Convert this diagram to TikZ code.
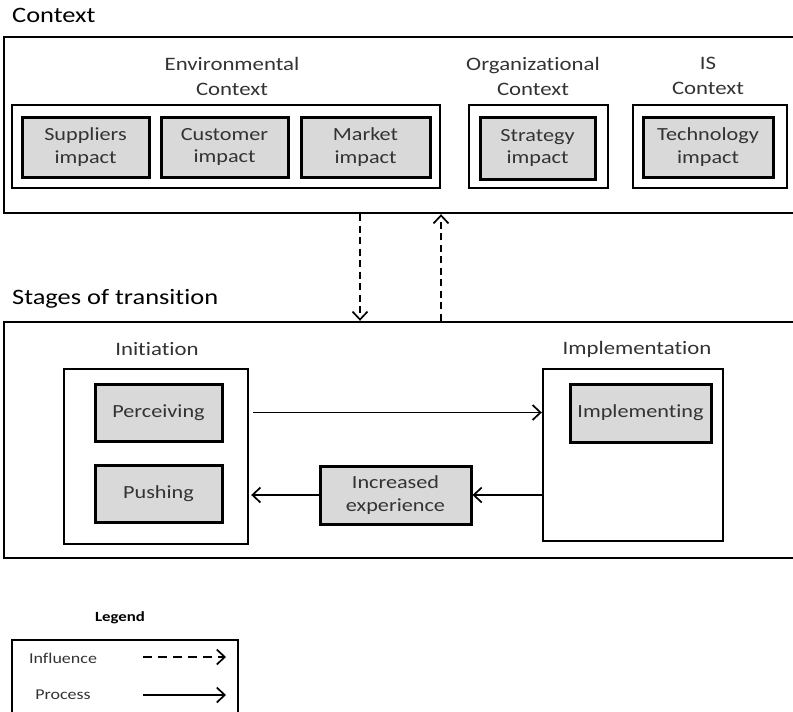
\documentclass[tikz,border=0pt]{standalone}
\usepackage{fontspec}
\setmainfont{Carlito}[FakeStretch=1.2, Ligatures=NoCommon]
\usetikzlibrary{arrows.meta}
\definecolor{boxgray}{HTML}{D9D9D9}
\definecolor{txtgray}{HTML}{333333}
\tikzset{
  frame/.style={draw=black, line width=2.4pt, fill=none, inner sep=0pt},
  imp/.style={draw=black, line width=3pt, fill=boxgray, inner sep=0pt, align=center,
    text=txtgray, font=\fontsize{18.5}{22.5}\selectfont},
  lbl/.style={align=center, text=txtgray, font=\fontsize{19}{25}\selectfont, inner sep=0pt},
  ttl/.style={anchor=west, text=black, font=\fontsize{22}{26}\selectfont, inner sep=0pt},
  proc/.style={line width=1.7pt, -{Straight Barb[length=8pt,width=15pt,line width=1.7pt]}},
  infl/.style={line width=1.7pt, dash pattern=on 7pt off 4.5pt, -{Straight Barb[length=8pt,width=15pt,line width=1.7pt]}},
  lgtxt/.style={text=txtgray, font=\fontsize{15}{18}\selectfont, inner sep=0pt}
}
\begin{document}
\begin{tikzpicture}[x=1pt,y=-1pt]
\useasboundingbox (0,0) rectangle (793,712);
\clip (0,0) rectangle (793,712);
% Context
\node[ttl] (ctxtitle) at (12,15) {Context};
\node[frame, minimum width=796pt, minimum height=176pt] (context) at (402,125) {};
\node[lbl] (envlbl) at (232,76) {Environmental\\Context};
\node[frame, minimum width=428pt, minimum height=83pt] (env) at (226,146.5) {};
\node[imp, minimum width=127pt, minimum height=60pt] (sup) at (85.5,147) {Suppliers\\impact};
\node[imp, minimum width=127pt, minimum height=60pt] (cus) at (224.5,147) {Customer\\impact};
\node[imp, minimum width=129pt, minimum height=60pt] (mkt) at (365.5,147) {Market\\impact};
\node[lbl] (orglbl) at (533,76) {Organizational\\Context};
\node[frame, minimum width=139pt, minimum height=83pt] (org) at (538.5,146.5) {};
\node[imp, minimum width=115pt, minimum height=62pt] (str) at (537.5,148) {Strategy\\impact};
\node[lbl] (islbl) at (708,76) {IS\\Context};
\node[frame, minimum width=154pt, minimum height=83pt] (is) at (710,146.5) {};
\node[imp, minimum width=130pt, minimum height=60pt] (tec) at (708,147) {Technology\\impact};
% Stages
\node[ttl] (sttitle) at (12,299) {Stages of transition};
\node[frame, minimum width=796pt, minimum height=236pt] (stages) at (402,440) {};
\node[lbl] (initlbl) at (157,349) {Initiation};
\node[frame, minimum width=184pt, minimum height=175pt] (init) at (156,456.5) {};
\node[imp, minimum width=127pt, minimum height=57pt] (perc) at (158.5,412.5) {Perceiving};
\node[imp, minimum width=127pt, minimum height=57pt] (push) at (158.5,493.5) {Pushing};
\node[lbl] (impllbl) at (637,349) {Implementation};
\node[frame, minimum width=180pt, minimum height=172pt] (impl) at (633,455) {};
\node[imp, minimum width=141pt, minimum height=58pt] (implg) at (640.5,413) {Implementing};
\node[imp, minimum width=151pt, minimum height=58pt] (incr) at (395.5,495) {Increased\\experience};
% influence arrows
\coordinate (d1) at (360,0);
\coordinate (d2) at (441,0);
\draw[infl] (context.south -| d1) -- (stages.north -| d1);
\draw[infl] (stages.north -| d2) -- (context.south -| d2);
% process arrows
\draw[proc] ([xshift=4pt]init.east |- perc.center) -- (impl.west |- perc.center);
\draw[proc] (impl.west |- incr.center) -- (incr.east);
\draw[proc] (incr.west) -- ([xshift=2pt]init.east |- incr.center);
% Legend
\node[text=black, font=\bfseries\fontsize{14}{16}\selectfont, inner sep=0pt] (lgtitle) at (120,618) {Legend};
\node[draw=black, line width=2.2pt, minimum width=226pt, minimum height=100pt, inner sep=0pt] (legend) at (125,690) {};
\node[lgtxt] (linf) at (63,658) {Influence};
\node[lgtxt] (lpro) at (63,695) {Process};
\coordinate (a1) at (143,657);
\coordinate (a2) at (226,657);
\coordinate (b1) at (143,695);
\coordinate (b2) at (226,695);
\draw[infl, dash pattern=on 9pt off 6pt] (a1) -- (a2);
\draw[proc] (b1) -- (b2);
\end{tikzpicture}
\end{document}
